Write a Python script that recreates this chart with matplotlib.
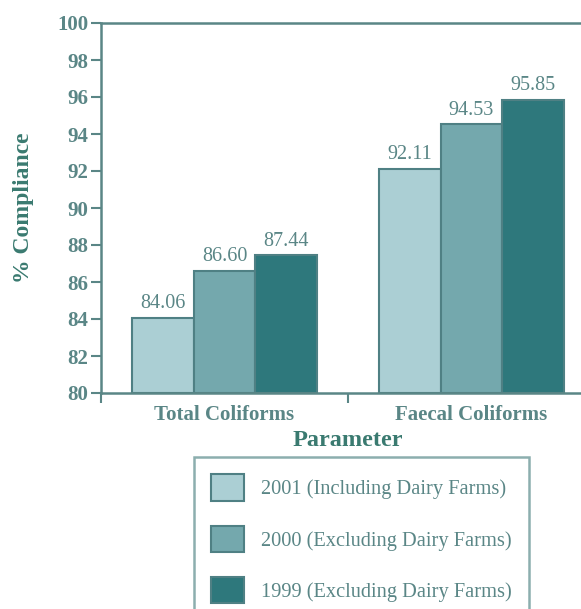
import matplotlib
matplotlib.use("Agg")
import matplotlib.pyplot as plt
import numpy as np

categories = ["Total Coliforms", "Faecal Coliforms"]
series_names = ["2001 (Including Dairy Farms)",
                "2000 (Excluding Dairy Farms)",
                "1999 (Excluding Dairy Farms)"]
values_2001 = [84.06, 92.11]
values_2000 = [86.60, 94.53]
values_1999 = [87.44, 95.85]
yticks = [80, 82, 84, 86, 88, 90, 92, 94, 96, 98, 100]

colors = ["#abcfd4", "#74a8ad", "#2e787c"]
edge = "#4f8084"
tick_col = "#5a8686"
label_col = "#3a7a70"

plt.rcParams['font.family'] = ['Liberation Serif', 'DejaVu Serif']

fig = plt.figure(figsize=(5.81, 6.09), dpi=100)
W, H = 581, 609
ax = fig.add_axes([101 / W, 1 - 393 / H, (595 - 101) / W, (393 - 23) / H])

x = np.arange(len(categories))
width = 0.25
all_vals = [values_2001, values_2000, values_1999]
handles = []
for i, (vals, c, name) in enumerate(zip(all_vals, colors, series_names)):
    b = ax.bar(x + (i - 1) * width, [v - 80 for v in vals], width, bottom=80,
               color=c, edgecolor=edge, linewidth=1.5, label=name)
    handles.append(b)
    for xi, v in zip(x + (i - 1) * width, vals):
        ax.text(xi, v + 0.25, f"{v:.2f}", ha="center", va="bottom",
                fontsize=14.5, color=tick_col)

ax.set_ylim(80, 100)
ax.set_xlim(-0.5, 1.5)
ax.set_yticks(yticks)
ax.set_yticklabels([str(t) for t in yticks], fontweight="bold", fontsize=15, color=tick_col)
ax.tick_params(axis="y", direction="out", length=7, width=1.5, color=tick_col, pad=2)

ax.set_xticks([-0.5, 0.5, 1.5])
ax.set_xticklabels(["", "", ""])
ax.tick_params(axis="x", which="major", direction="out", length=7, width=1.5, color=tick_col)
ax.set_xticks(x, minor=True)
ax.set_xticklabels(categories, minor=True, fontweight="bold", fontsize=15, color=tick_col)
ax.tick_params(axis="x", which="minor", length=0, pad=9)

for s in ["left", "top", "bottom"]:
    ax.spines[s].set_color(tick_col)
    ax.spines[s].set_linewidth(1.8)
ax.spines["right"].set_visible(False)

ax.set_ylabel("% Compliance", fontsize=17, fontweight="bold", color=label_col, labelpad=17)
ax.set_xlabel("Parameter", fontsize=17.5, fontweight="bold", color=label_col, labelpad=3)

leg = fig.legend(handles=handles, labels=series_names, loc="upper left",
                 bbox_to_anchor=(194 / W, 1 - 457 / H), frameon=True, fancybox=False,
                 fontsize=14.7, handlelength=1.6, handleheight=1.6, labelspacing=1.23,
                 handletextpad=0.83, borderpad=0.85, borderaxespad=0)
for t in leg.get_texts():
    t.set_color(tick_col)
leg.get_frame().set_edgecolor("#6f9a9a")
leg.get_frame().set_linewidth(1.8)

fig.savefig("out.png", dpi=100)
